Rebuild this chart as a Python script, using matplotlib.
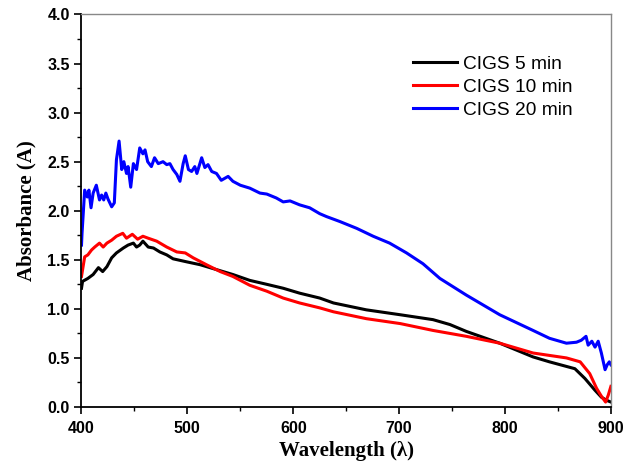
import matplotlib.pyplot as plt
from matplotlib.ticker import MultipleLocator

# Absorbance spectra (wavelength nm, absorbance A)
wl_5 = [400, 401, 406, 411, 416, 420, 424, 428.5, 433, 439.5, 444, 449, 452, 455, 458,
        463, 468, 474, 480.5, 486.5, 499, 512, 527.5, 543, 559, 575, 590.5, 606, 625,
        638, 669, 701, 732, 748, 763.5, 795, 826.5, 842, 866, 875.5, 885, 891, 895.5, 900]
abs_5 = [1.21, 1.28, 1.31, 1.35, 1.42, 1.38, 1.43, 1.52, 1.57, 1.62, 1.65, 1.67, 1.63, 1.65, 1.69,
         1.63, 1.62, 1.58, 1.55, 1.51, 1.48, 1.45, 1.40, 1.35, 1.29, 1.25, 1.21, 1.16, 1.11,
         1.06, 0.99, 0.94, 0.89, 0.84, 0.77, 0.65, 0.51, 0.46, 0.39, 0.29, 0.17, 0.10, 0.07, 0.05]

wl_10 = [400, 403, 406, 409.5, 412.5, 417, 420.5, 424, 428.5, 433, 439, 442.5, 448, 453, 458,
         463, 471, 480.5, 490, 498, 505.5, 518, 531, 543, 559, 575, 590.5, 606, 625,
         638, 669, 701, 732, 763.5, 795, 826.5, 858, 871, 880, 886.5, 891, 895, 897.5, 900]
abs_10 = [1.33, 1.53, 1.55, 1.60, 1.63, 1.67, 1.63, 1.67, 1.70, 1.74, 1.77, 1.72, 1.76, 1.71, 1.74,
          1.72, 1.69, 1.63, 1.58, 1.57, 1.52, 1.45, 1.38, 1.33, 1.24, 1.18, 1.11, 1.06, 1.01,
          0.97, 0.90, 0.85, 0.78, 0.72, 0.65, 0.55, 0.50, 0.46, 0.34, 0.19, 0.11, 0.05, 0.12, 0.21]

wl_20 = [400, 400.5, 403, 405.5, 407, 409, 411, 414, 417, 419, 421, 423, 425, 428.5, 431,
         433, 435.5, 438, 440, 442.5, 444, 446.5, 449, 452, 455, 458, 460, 462.5, 466,
         469, 472.5, 477, 480.5, 483.5, 486.5, 490, 493, 496, 498, 501, 504, 507, 509,
         513.5, 516.5, 519.5, 523, 527.5, 532, 538.5, 543, 550, 559, 568.5, 575, 584,
         590.5, 597, 606, 615.5, 625, 631.5, 644, 660, 675.5, 691, 707, 722.5, 738.5,
         763.5, 795, 826.5, 842, 858, 867.5, 872, 876.5, 878.5, 882, 885, 888, 891,
         894.5, 896.5, 898.5, 900]
abs_20 = [1.65, 1.77, 2.21, 2.14, 2.21, 2.03, 2.18, 2.26, 2.11, 2.16, 2.11, 2.18, 2.12, 2.04, 2.08,
          2.52, 2.71, 2.42, 2.50, 2.38, 2.45, 2.24, 2.48, 2.42, 2.64, 2.58, 2.62, 2.50, 2.45,
          2.54, 2.48, 2.50, 2.47, 2.48, 2.42, 2.37, 2.30, 2.48, 2.56, 2.42, 2.40, 2.45, 2.38,
          2.54, 2.44, 2.47, 2.40, 2.38, 2.31, 2.35, 2.30, 2.26, 2.23, 2.18, 2.17, 2.13,
          2.09, 2.10, 2.06, 2.03, 1.97, 1.94, 1.89, 1.82, 1.74, 1.67, 1.57, 1.46, 1.31,
          1.14, 0.94, 0.78, 0.70, 0.65, 0.66, 0.68, 0.72, 0.63, 0.67, 0.61, 0.67, 0.55,
          0.38, 0.43, 0.46, 0.43]

fig = plt.figure(figsize=(6.24, 4.63), dpi=100)
ax = fig.add_axes([0.1306, 0.121, 0.8484, 0.8477])

ax.plot(wl_5, abs_5, color='black', lw=2.2, label='CIGS 5 min')
ax.plot(wl_10, abs_10, color='#ff0000', lw=2.2, label='CIGS 10 min')
ax.plot(wl_20, abs_20, color='#0000ff', lw=2.2, label='CIGS 20 min')

ax.set_xlim(400, 900)
ax.set_ylim(0, 4.0)
ax.xaxis.set_major_locator(MultipleLocator(100))
ax.xaxis.set_minor_locator(MultipleLocator(50))
ax.yaxis.set_major_locator(MultipleLocator(0.5))
ax.yaxis.set_minor_locator(MultipleLocator(0.25))
ax.yaxis.set_major_formatter(plt.FormatStrFormatter('%.1f'))

ax.tick_params(which='major', direction='out', length=5, width=1.2)
ax.tick_params(which='minor', direction='out', length=3, width=1.0)
ax.tick_params(axis='x', pad=5)
ax.tick_params(top=False, right=False)
for lab in ax.get_xticklabels() + ax.get_yticklabels():
    lab.set_fontfamily('Liberation Sans')
    lab.set_fontweight('bold')
    lab.set_fontsize(11.5)

for side in ['left', 'bottom']:
    ax.spines[side].set_linewidth(1.3)
    ax.spines[side].set_color('black')
for side in ['top', 'right']:
    ax.spines[side].set_linewidth(1.0)
    ax.spines[side].set_color('#888888')

ax.set_xlabel('Wavelength (λ)', fontfamily='Liberation Serif', fontweight='bold', fontsize=15, labelpad=4)
ax.set_ylabel('Absorbance (A)', fontfamily='Liberation Serif', fontweight='bold', fontsize=15, labelpad=8)

ax.legend(loc='upper left', bbox_to_anchor=(0.594, 0.94), frameon=False,
          prop={'family': 'Liberation Sans', 'size': 13.8},
          handlelength=2.3, handletextpad=0.3, labelspacing=0.3)

fig.savefig('out.png', dpi=100)
